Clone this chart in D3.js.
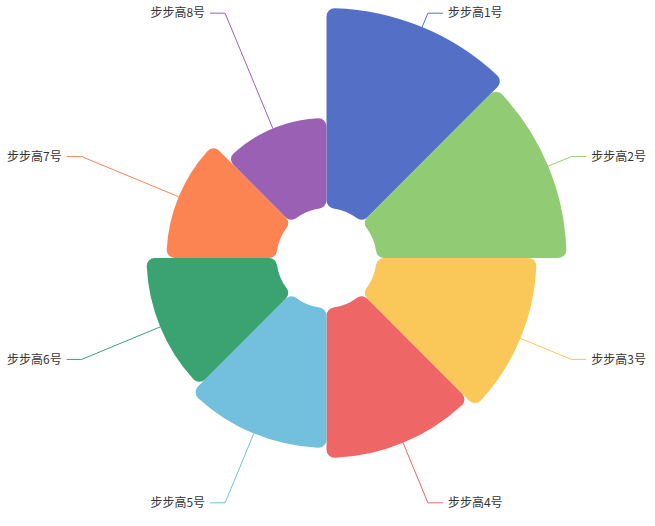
<!DOCTYPE html>
<html><head><meta charset="utf-8">
<script src="https://cdn.jsdelivr.net/npm/d3@7/dist/d3.min.js"></script>
<style>html,body{margin:0;padding:0;background:#fff;}</style>
</head><body>
<svg id="c" width="655" height="526"></svg>
<script>
const categories = ["步步高1号","步步高2号","步步高3号","步步高4号","步步高5号","步步高6号","步步高7号","步步高8号"];
const values = [40, 38, 32, 30, 28, 26, 22, 18];
const colors = ["#5470c6","#91cc75","#fac858","#ee6666","#73c0de","#3ba272","#fc8452","#9a60b4"];

const W = 655, H = 526;
const cx = 326.5, cy = 258;
const r0 = 50, rMax = 250;
const svg = d3.select("#c");
const g = svg.append("g").attr("transform", `translate(${cx},${cy})`);

const rScale = d3.scaleLinear().domain([0, d3.max(values)]).range([r0, rMax]);
const pie = d3.pie().value(() => 1).sort(null);
const arcs = pie(values);
const arc = d3.arc().innerRadius(r0).outerRadius(d => rScale(d.data)).cornerRadius(8);

g.selectAll("path.s").data(arcs).enter().append("path")
  .attr("class","s")
  .attr("d", arc)
  .attr("fill", (d,i) => colors[i]);

const len1 = 15, len2 = 15;
arcs.forEach((d, i) => {
  const a = (d.startAngle + d.endAngle) / 2;
  const sx = Math.sin(a), sy = -Math.cos(a);
  const r = rScale(d.data);
  const p1 = [r * sx, r * sy];
  const p2 = [(rMax + len1) * sx, (rMax + len1) * sy];
  const right = sx >= 0;
  const p3 = [p2[0] + (right ? len2 : -len2), p2[1]];
  g.append("polyline")
    .attr("points", [p1, p2, p3].map(p => p.join(",")).join(" "))
    .attr("fill", "none")
    .attr("stroke", colors[i])
    .attr("stroke-width", 1);
  g.append("text")
    .attr("x", p3[0] + (right ? 5 : -5))
    .attr("y", p3[1])
    .attr("dy", "0.35em")
    .attr("text-anchor", right ? "start" : "end")
    .attr("font-family", "'Noto Sans CJK SC', sans-serif")
    .attr("font-size", 12)
    .attr("fill", "#333")
    .text(categories[i]);
});
</script>
</body></html>
